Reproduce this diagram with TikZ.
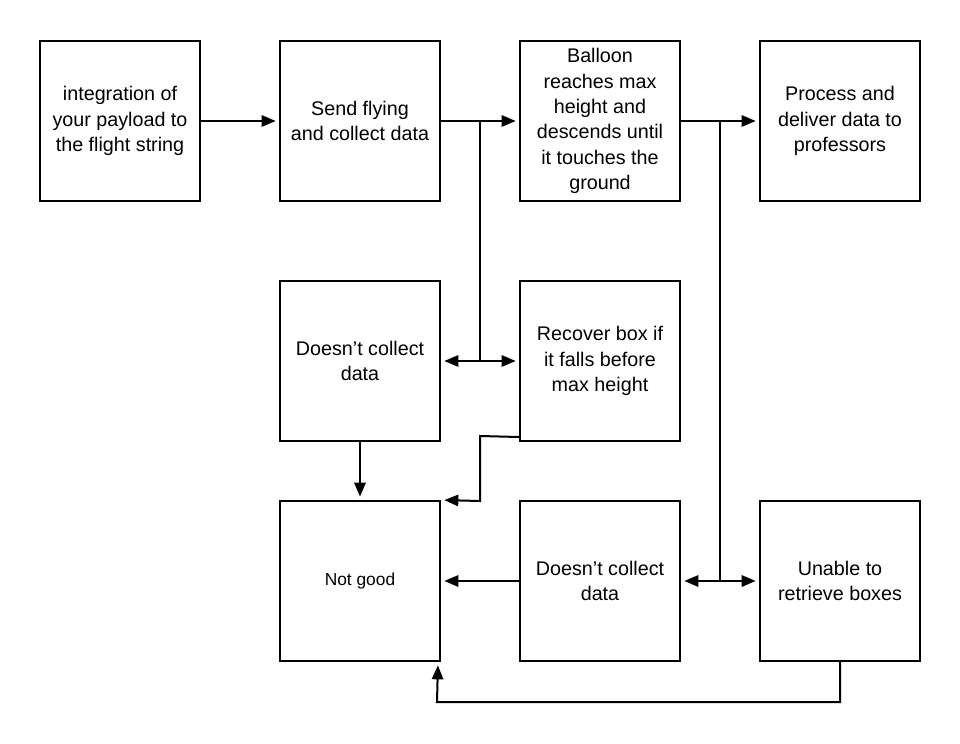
\documentclass[tikz,border=0pt]{standalone}
\usepackage{fontspec}
\setmainfont{Liberation Sans}
\usetikzlibrary{arrows.meta,calc}
\begin{document}
\begin{tikzpicture}[x=0.75pt,y=-0.75pt,
  box/.style={draw,line width=1.5pt,minimum width=120pt,minimum height=120pt,inner sep=0pt,align=center,
    font=\fontsize{14.8pt}{19pt}\selectfont},
  conn/.style={line width=1.5pt},
  arr/.style={line width=1.5pt,-{Triangle[length=10.5pt,width=8.5pt]},shorten >=2.5pt},
  darr/.style={line width=1.5pt,{Triangle[length=10.5pt,width=8.5pt]}-{Triangle[length=10.5pt,width=8.5pt]},shorten >=2.5pt,shorten <=2.5pt}]
\useasboundingbox (0,0) rectangle (960,743);
\node[box] (b1) at (120,121) {integration of\\your payload to\\the flight string};
\node[box] (b2) at (360,121) {Send flying\\and collect data};
\node[box] (b3) at (600,121) {Balloon\\reaches max\\height and\\descends until\\it touches the\\ground};
\node[box] (b4) at (840,121) {Process and\\deliver data to\\professors};
\node[box] (b5) at (360,361) {Doesn’t collect\\data};
\node[box] (b6) at (600,361) {Recover box if\\it falls before\\max height};
\node[box,font=\fontsize{13pt}{16pt}\selectfont] (b7) at (360,581) {Not good};
\node[box] (b8) at (600,581) {Doesn’t collect\\data};
\node[box] (b9) at (840,581) {Unable to\\retrieve boxes};
\coordinate (j1) at (480,121);
\coordinate (j1b) at (480,361);
\coordinate (j2) at (720,121);
\coordinate (j2b) at (720,581);
\draw[arr] (b1) -- (b2);
\draw[arr] (b2) -- (b3);
\draw[arr] (b3) -- (b4);
\draw[conn] (j1) -- (j1b);
\draw[darr] (b5.east) -- (b6.west);
\draw[conn] (j2) -- (j2b);
\draw[darr] (b8.east) -- (b9.west);
\draw[arr] (b5) -- (b7);
\coordinate (e6) at ($(b6.south west)+(0,-5)$);
\draw[arr] (e6) -- (480,436) -- (480,501) -- (b7.north east);
\draw[arr] (b8) -- (b7);
\coordinate (f7) at ($(b7.south east)+(-3,0)$);
\draw[arr] (b9.south) -- (840,702) -- (437,702) -- (f7);
\end{tikzpicture}
\end{document}
